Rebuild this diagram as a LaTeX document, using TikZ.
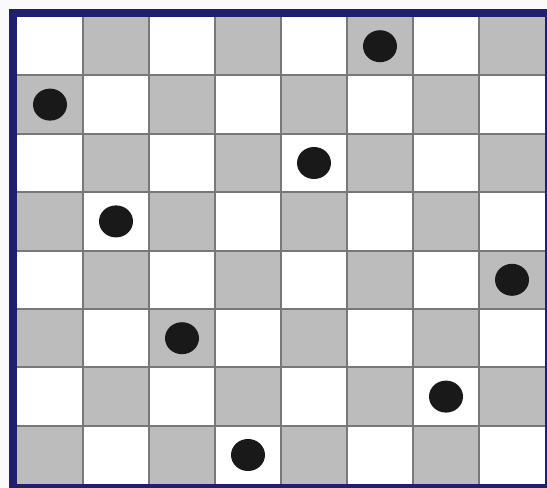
\documentclass[tikz,border=0pt]{standalone}
\usepackage{tikz}
\definecolor{boardnavy}{RGB}{32,32,112}
\definecolor{cellgray}{RGB}{188,188,188}
\definecolor{gridgray}{RGB}{120,120,120}
\begin{document}
\begin{tikzpicture}[x=0.5pt,y=-0.5pt]
	\useasboundingbox (0,0) rectangle (547,488);
	\fill[white!96!gray] (0,0) rectangle (547,488);
	\fill[white] (17,17) rectangle (545,484);
	\foreach \r in {0,...,7}
		\foreach \c in {0,...,7}{
			\pgfmathtruncatemacro{\s}{\r+\c}
			\ifodd\s \fill[cellgray] (17+66*\c,17+58.4*\r) rectangle ++(66,58.4); \fi
		}
	\foreach \k in {1,...,7}{
		\draw[gridgray, line width=1pt] (17+66*\k,17) -- (17+66*\k,484);
		\draw[gridgray, line width=1pt] (17,17+58.4*\k) -- (545,17+58.4*\k);
	}
	\foreach \r/\c in {0/5,1/0,2/4,3/1,4/7,5/2,6/6,7/3}
		\fill[black!90] (50+66*\c,46.2+58.4*\r) ellipse (17 and 16);
	\draw[boardnavy, line width=4pt] (13,13) rectangle (549,488);
\end{tikzpicture}
\end{document}
